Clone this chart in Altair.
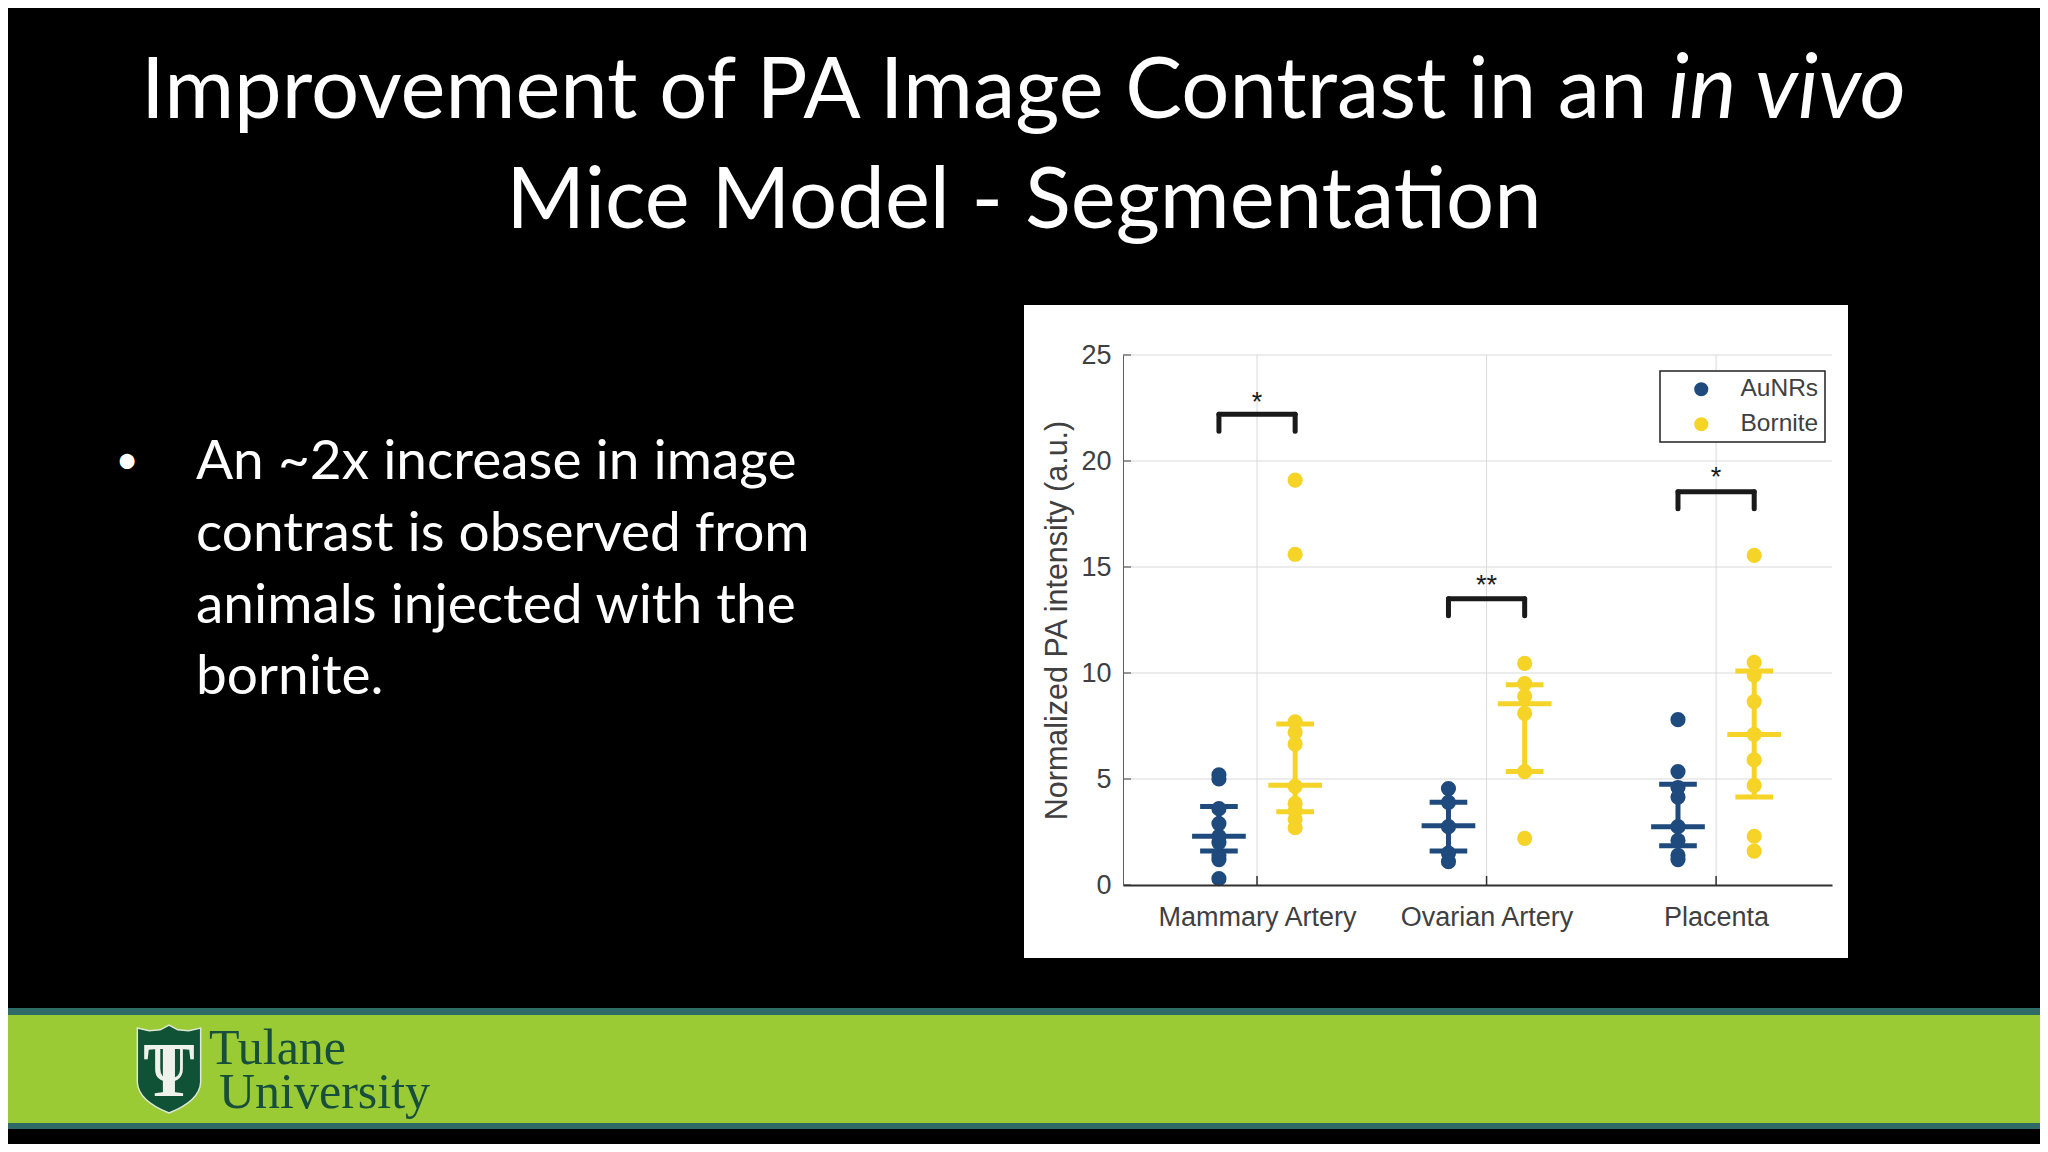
import altair as alt
import pandas as pd

# ---- values ----
CATEGORIES = ["Mammary Artery", "Ovarian Artery", "Placenta"]
GROUPS = ["AuNRs", "Bornite"]
GRID_Y = [5, 10, 15, 20, 25]
TICK_X = [1, 2, 3]
TICK_Y = [0, 5, 10, 15, 20, 25]

MAMMARY_AUNR = [0.3, 1.2, 1.4, 2.0, 2.3, 2.9, 3.6, 5.0, 5.2]
MAMMARY_BORN = [19.1, 15.6, 7.7, 7.2, 6.65, 4.65, 3.85, 3.5, 3.1, 2.7]
OVARIAN_AUNR = [4.55, 3.9, 2.75, 1.5, 1.1]
OVARIAN_BORN = [10.45, 9.5, 8.9, 8.1, 5.35, 2.2]
PLACENTA_AUNR = [7.8, 5.35, 4.6, 4.15, 2.75, 2.1, 1.4, 1.2]
PLACENTA_BORN = [15.55, 10.5, 9.9, 8.65, 7.1, 5.9, 4.7, 2.3, 1.6]

# category, group, mean, low, high
SUMMARY = [
    (1, "AuNRs", 2.3, 1.6, 3.7),
    (1, "Bornite", 4.7, 3.45, 7.6),
    (2, "AuNRs", 2.8, 1.6, 3.9),
    (2, "Bornite", 8.55, 5.35, 9.45),
    (3, "AuNRs", 2.75, 1.85, 4.75),
    (3, "Bornite", 7.1, 4.15, 10.1),
]
# category, top of bracket, bottom of legs, star height, stars
BRACKETS = [
    (1, 22.2, 21.4, 22.75, "*"),
    (2, 13.5, 12.7, 14.1, "**"),
    (3, 18.55, 17.75, 19.2, "*"),
]

NAVY = "#1f4a7d"
YELLOW = "#f5d327"
INK = "#404040"
OFFSET = 0.166
MEAN_HALF = 0.117
CAP_HALF = 0.082

W, H = 709, 530
X0, Y0 = 1123, 355


def px(x):
    return x - X0


def py(y):
    return y - Y0


# ---- tables ----
rows = []
series = [
    (1, "AuNRs", MAMMARY_AUNR), (1, "Bornite", MAMMARY_BORN),
    (2, "AuNRs", OVARIAN_AUNR), (2, "Bornite", OVARIAN_BORN),
    (3, "AuNRs", PLACENTA_AUNR), (3, "Bornite", PLACENTA_BORN),
]
for cat, grp, vals in series:
    sign = -1 if grp == "AuNRs" else 1
    for v in vals:
        rows.append({"x": cat + sign * OFFSET, "y": v, "group": grp})
points = pd.DataFrame(rows)

summ = []
for cat, grp, mean, lo, hi in SUMMARY:
    c = cat + (-1 if grp == "AuNRs" else 1) * OFFSET
    summ.append({"group": grp, "x": c, "x2": c, "y": lo, "y2": hi})
    summ.append({"group": grp, "x": c - MEAN_HALF, "x2": c + MEAN_HALF, "y": mean, "y2": mean})
    summ.append({"group": grp, "x": c - CAP_HALF, "x2": c + CAP_HALF, "y": lo, "y2": lo})
    summ.append({"group": grp, "x": c - CAP_HALF, "x2": c + CAP_HALF, "y": hi, "y2": hi})
summary = pd.DataFrame(summ)

br = []
stars = []
for cat, top, leg, sy, s in BRACKETS:
    a, b = cat - OFFSET, cat + OFFSET
    br.append({"x": a, "x2": b, "y": top, "y2": top})
    br.append({"x": a, "x2": a, "y": leg, "y2": top})
    br.append({"x": b, "x2": b, "y": leg, "y2": top})
    stars.append({"x": cat, "y": sy, "t": s})
brackets = pd.DataFrame(br)
starsdf = pd.DataFrame(stars)

xscale = alt.Scale(domain=[0.416, 3.505], nice=False, zero=False)
yscale = alt.Scale(domain=[0, 25], nice=False)
one = pd.DataFrame({"a": [0]})


def rect(x1, x2, y1, y2, color):
    return alt.Chart(one).mark_rect(color=color, clip=False).encode(
        x=alt.value(px(x1)), x2=alt.value(px(x2)),
        y=alt.value(py(y1)), y2=alt.value(py(y2)))


def label(text, x, y, size, font="Lato", color="#ffffff", align="left", style="normal", weight="normal"):
    return alt.Chart(one).mark_text(
        text=text, font=font, fontSize=size, color=color, align=align,
        baseline="alphabetic", fontStyle=style, fontWeight=weight, clip=False
    ).encode(x=alt.value(px(x)), y=alt.value(py(y)))


# ---- page furniture ----
backdrop = [
    rect(1024, 1848, 305, 958, "#ffffff"),
    rect(0, 2048, 1008, 1015, "#2f6b66"),
    rect(0, 2048, 1015, 1123, "#9acb34"),
    rect(0, 2048, 1123, 1129, "#2f6b66"),
]
SHIELD = "M-0.72,-0.93 L-0.45,-0.87 L-0.2,-0.89 L0,-1 L0.2,-0.89 L0.45,-0.87 L0.72,-0.93 L0.72,0.3 Q0.7,0.72 0,1 Q-0.7,0.72 -0.72,0.3 Z"
logo = [
    alt.Chart(one).mark_point(shape=SHIELD, size=7744, filled=True, opacity=1, fill="#0f5236",
                              stroke="#dfe8d8", strokeWidth=1.5, clip=False)
    .encode(x=alt.value(px(169)), y=alt.value(py(1069))),
    label("T", 169, 1096, 78, font="Liberation Serif", color="#eef2ea", align="center", weight="bold"),
    label("U", 169, 1081, 54, font="Liberation Serif", color="#eef2ea", align="center"),
    label("Tulane", 209, 1064, 50, font="Liberation Serif", color="#174f3c"),
    label("University", 219, 1108, 50, font="Liberation Serif", color="#174f3c"),
]
texts = [
    label("Improvement of PA Image Contrast in an", 141, 118, 85),
    label("in vivo", 1906, 118, 89, align="right", style="italic"),
    label("Mice Model - Segmentation", 1024, 228, 85, align="center"),
    label("•", 127, 474, 40, align="center"),
    label("An ~2x increase in image", 196, 479, 55),
    label("contrast is observed from", 196, 551, 55),
    label("animals injected with the", 196, 623, 55),
    label("bornite.", 196, 694, 55),
]

# ---- chart marks ----
hgrid = alt.Chart(pd.DataFrame({"y": GRID_Y})).mark_rule(color="#d9d9d9", strokeWidth=1).encode(
    y=alt.Y("y:Q", scale=yscale), x=alt.value(0), x2=alt.value(W))
vgrid = alt.Chart(pd.DataFrame({"x": TICK_X})).mark_rule(color="#d9d9d9", strokeWidth=1).encode(
    x=alt.X("x:Q", scale=xscale), y=alt.value(0), y2=alt.value(H))
yticks = alt.Chart(pd.DataFrame({"y": TICK_Y})).mark_rule(color="#404040", strokeWidth=1).encode(
    y=alt.Y("y:Q", scale=yscale), x=alt.value(0), x2=alt.value(8))
xticks = alt.Chart(pd.DataFrame({"x": TICK_X})).mark_rule(color="#303030", strokeWidth=1.5).encode(
    x=alt.X("x:Q", scale=xscale), y=alt.value(H), y2=alt.value(H - 9))

legend = alt.Legend(
    title=None, orient="none", legendX=1660 - X0, legendY=371 - Y0,
    fillColor="#ffffff", strokeColor="#222222",
    padding=6, rowPadding=10, symbolType="circle", symbolSize=200,
    symbolOffset=23, labelOffset=27, labelFont="Liberation Sans",
    labelFontSize=24.5, labelColor=INK, symbolStrokeWidth=0, columnPadding=0,
    labelLimit=200, offset=0,
)
color = alt.Color("group:N", scale=alt.Scale(domain=GROUPS, range=[NAVY, YELLOW]), legend=legend)

bars = alt.Chart(summary).mark_rule(strokeWidth=5).encode(
    x=alt.X("x:Q", scale=xscale,
            axis=alt.Axis(values=TICK_X, grid=False, title=None, tickSize=0, zindex=1,
                          domainColor="#303030", domainWidth=2, labelFont="Liberation Sans",
                          labelFontSize=27, labelColor=INK, labelPadding=19, labelLimit=400,
                          labelExpr=f"{CATEGORIES}[datum.value - 1]")),
    x2="x2:Q",
    y=alt.Y("y:Q", scale=yscale,
            axis=alt.Axis(values=TICK_Y, grid=False, tickSize=0, zindex=1,
                          domainColor="#606060", domainWidth=1, labelFont="Liberation Sans",
                          labelFontSize=27, labelColor=INK, labelPadding=12,
                          title="Normalized PA intensity (a.u.)", titleFont="Liberation Sans",
                          titleFontSize=30.5, titleFontWeight="normal", titleColor=INK,
                          titlePadding=8)),
    y2="y2:Q",
    color=color,
)
dots = alt.Chart(points).mark_circle(size=230, opacity=1).encode(
    x=alt.X("x:Q", scale=xscale), y=alt.Y("y:Q", scale=yscale), color=color)
bracket = alt.Chart(brackets).mark_rule(color="#1a1a1a", strokeWidth=5, strokeCap="round").encode(
    x=alt.X("x:Q", scale=xscale), x2="x2:Q", y=alt.Y("y:Q", scale=yscale), y2="y2:Q")
star = alt.Chart(starsdf).mark_text(font="Liberation Sans", fontSize=27, color="#1a1a1a", baseline="middle").encode(
    x=alt.X("x:Q", scale=xscale), y=alt.Y("y:Q", scale=yscale), text="t:N")

chart = alt.layer(
    *backdrop, *logo, *texts, hgrid, vgrid, yticks, xticks, bars, dots, bracket, star
).resolve_scale(x="shared", y="shared").properties(
    width=W, height=H, background="#000000",
    autosize=alt.AutoSizeParams(type="none"),
    padding={"left": X0 - 8, "top": Y0 - 8, "right": 2040 - (X0 + W), "bottom": 1144 - (Y0 + H)},
).configure_view(stroke=None).configure_legend(strokeWidth=1.5)

chart.save("out.html", embed_options={"renderer": "svg", "actions": False})
